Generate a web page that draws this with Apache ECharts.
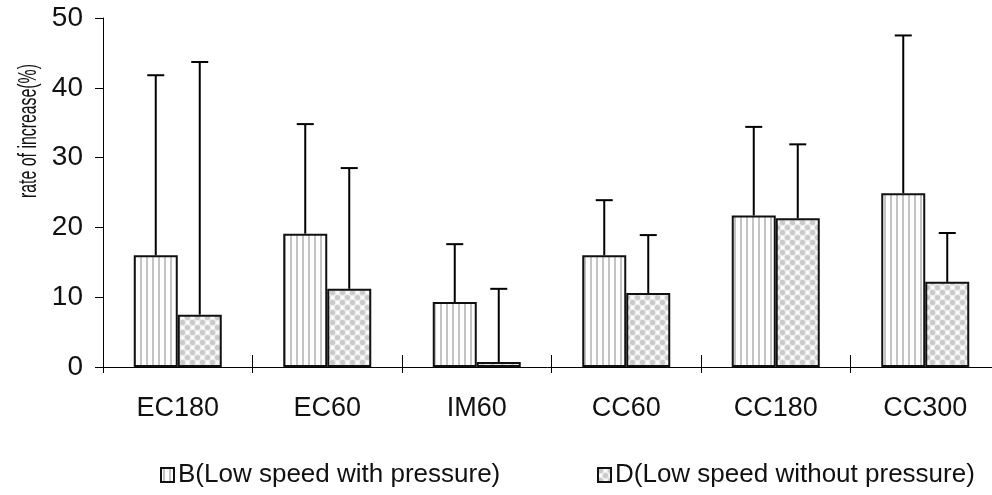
<!DOCTYPE html>
<html><head><meta charset="utf-8">
<script src="https://cdn.jsdelivr.net/npm/echarts@6/dist/echarts.min.js"></script>
<style>html,body{margin:0;padding:0;background:#fff}#c{width:992px;height:495px}</style>
</head><body><div id="c"></div>
<script>
const categories = ['EC180', 'EC60', 'IM60', 'CC60', 'CC180', 'CC300'];
const seriesNames = ['B(Low speed with pressure)', 'D(Low speed without pressure)'];
const bValues = [16.0, 19.1, 9.3, 16.0, 21.7, 24.9];
const bErrTop = [41.8, 34.8, 17.6, 23.9, 34.4, 47.5];
const dValues = [7.5, 11.2, 0.7, 10.6, 21.3, 12.2];
const dErrTop = [43.7, 28.5, 11.2, 18.9, 31.9, 19.2];
const yAxisName = 'rate of increase(%)';

function stripePattern() {
  const c = document.createElement('canvas');
  c.width = 6; c.height = 4;
  const g = c.getContext('2d');
  g.fillStyle = '#ffffff'; g.fillRect(0, 0, 6, 4);
  g.fillStyle = '#c4c4c4'; g.fillRect(2, 0, 2, 4);
  return c;
}
function dotPattern() {
  const c = document.createElement('canvas');
  c.width = 10; c.height = 10;
  const g = c.getContext('2d');
  g.fillStyle = '#ececec'; g.fillRect(0, 0, 10, 10);
  g.fillStyle = '#cacaca';
  [[2.5, 2.5], [7.5, 7.5]].forEach(p => { g.beginPath(); g.arc(p[0], p[1], 2.6, 0, Math.PI * 2); g.fill(); });
  g.fillStyle = '#ffffff';
  [[7.5, 2.5], [2.5, 7.5]].forEach(p => { g.beginPath(); g.arc(p[0], p[1], 1.6, 0, Math.PI * 2); g.fill(); });
  return c;
}

const BAR_W = 44;
const FONT = "'Liberation Sans', 'Noto Sans CJK JP', Arial, sans-serif";

function errSeries(vals, tops, off) {
  return {
    type: 'custom',
    xAxisIndex: 0,
    z: 1,
    silent: true,
    data: vals.map((v, i) => [i, v, tops[i]]),
    renderItem: function (params, api) {
      const p0 = api.coord([api.value(0), api.value(1)]);
      const p1 = api.coord([api.value(0), api.value(2)]);
      const x = p0[0] + off;
      const st = { stroke: '#000', lineWidth: 2 };
      return {
        type: 'group',
        children: [
          { type: 'line', shape: { x1: x, y1: p0[1], x2: x, y2: p1[1] }, style: st },
          { type: 'line', shape: { x1: x - 8.5, y1: p1[1], x2: x + 8.5, y2: p1[1] }, style: st }
        ]
      };
    }
  };
}

const legendBase = {
  top: 457, icon: 'rect',
  itemWidth: 13, itemHeight: 14,
  textStyle: { fontSize: 26, color: '#111', fontFamily: FONT, padding: [0, 0, 0, -1] }
};

const chart = echarts.init(document.getElementById('c'), null, { renderer: 'canvas' });
chart.setOption({
  animation: false,
  backgroundColor: '#ffffff',
  textStyle: { fontFamily: FONT },
  grid: { left: 103, width: 897, top: 18, bottom: 128, outerBoundsMode: 'none', containLabel: false },
  legend: [
    Object.assign({ left: 155, data: [seriesNames[0]] }, legendBase),
    Object.assign({ left: 592, data: [seriesNames[1]] }, legendBase)
  ],
  graphic: [{
    type: 'text',
    x: 29, y: 131,
    rotation: Math.PI / 2,
    scaleX: 0.61,
    scaleY: 1,
    style: { text: yAxisName, fontSize: 26, fontFamily: FONT, fill: '#111', textAlign: 'center', textVerticalAlign: 'middle' }
  }],
  xAxis: [{
    type: 'category', data: categories,
    axisLine: { lineStyle: { color: '#000', width: 1 } },
    axisTick: { show: true, length: 6, lineStyle: { color: '#000' } },
    axisLabel: { fontSize: 27, color: '#111', margin: 28, fontFamily: FONT }
  }, {
    type: 'category', data: categories, position: 'bottom',
    axisLine: { show: false },
    axisTick: { show: true, inside: true, length: 12, lineStyle: { color: '#000' } },
    axisLabel: { show: false }
  }],
  yAxis: {
    type: 'value', min: 0, max: 50, interval: 10,
    axisLine: { show: true, lineStyle: { color: '#000', width: 1 } },
    axisTick: { show: true, length: 8, lineStyle: { color: '#000' } },
    axisLabel: { fontSize: 28, color: '#111', margin: 20, fontFamily: FONT },
    splitLine: { show: false }
  },
  series: [
    errSeries(bValues, bErrTop, -BAR_W / 2),
    errSeries(dValues, dErrTop, BAR_W / 2),
    {
      name: seriesNames[0], type: 'bar', data: bValues, barWidth: BAR_W, barGap: '0%', z: 3,
      itemStyle: { color: { image: stripePattern(), repeat: 'repeat' }, borderColor: '#111', borderWidth: 2 }
    },
    {
      name: seriesNames[1], type: 'bar', data: dValues, barWidth: BAR_W, barGap: '0%', z: 3,
      itemStyle: { color: { image: dotPattern(), repeat: 'repeat' }, borderColor: '#111', borderWidth: 2 }
    }
  ]
});
</script></body></html>
